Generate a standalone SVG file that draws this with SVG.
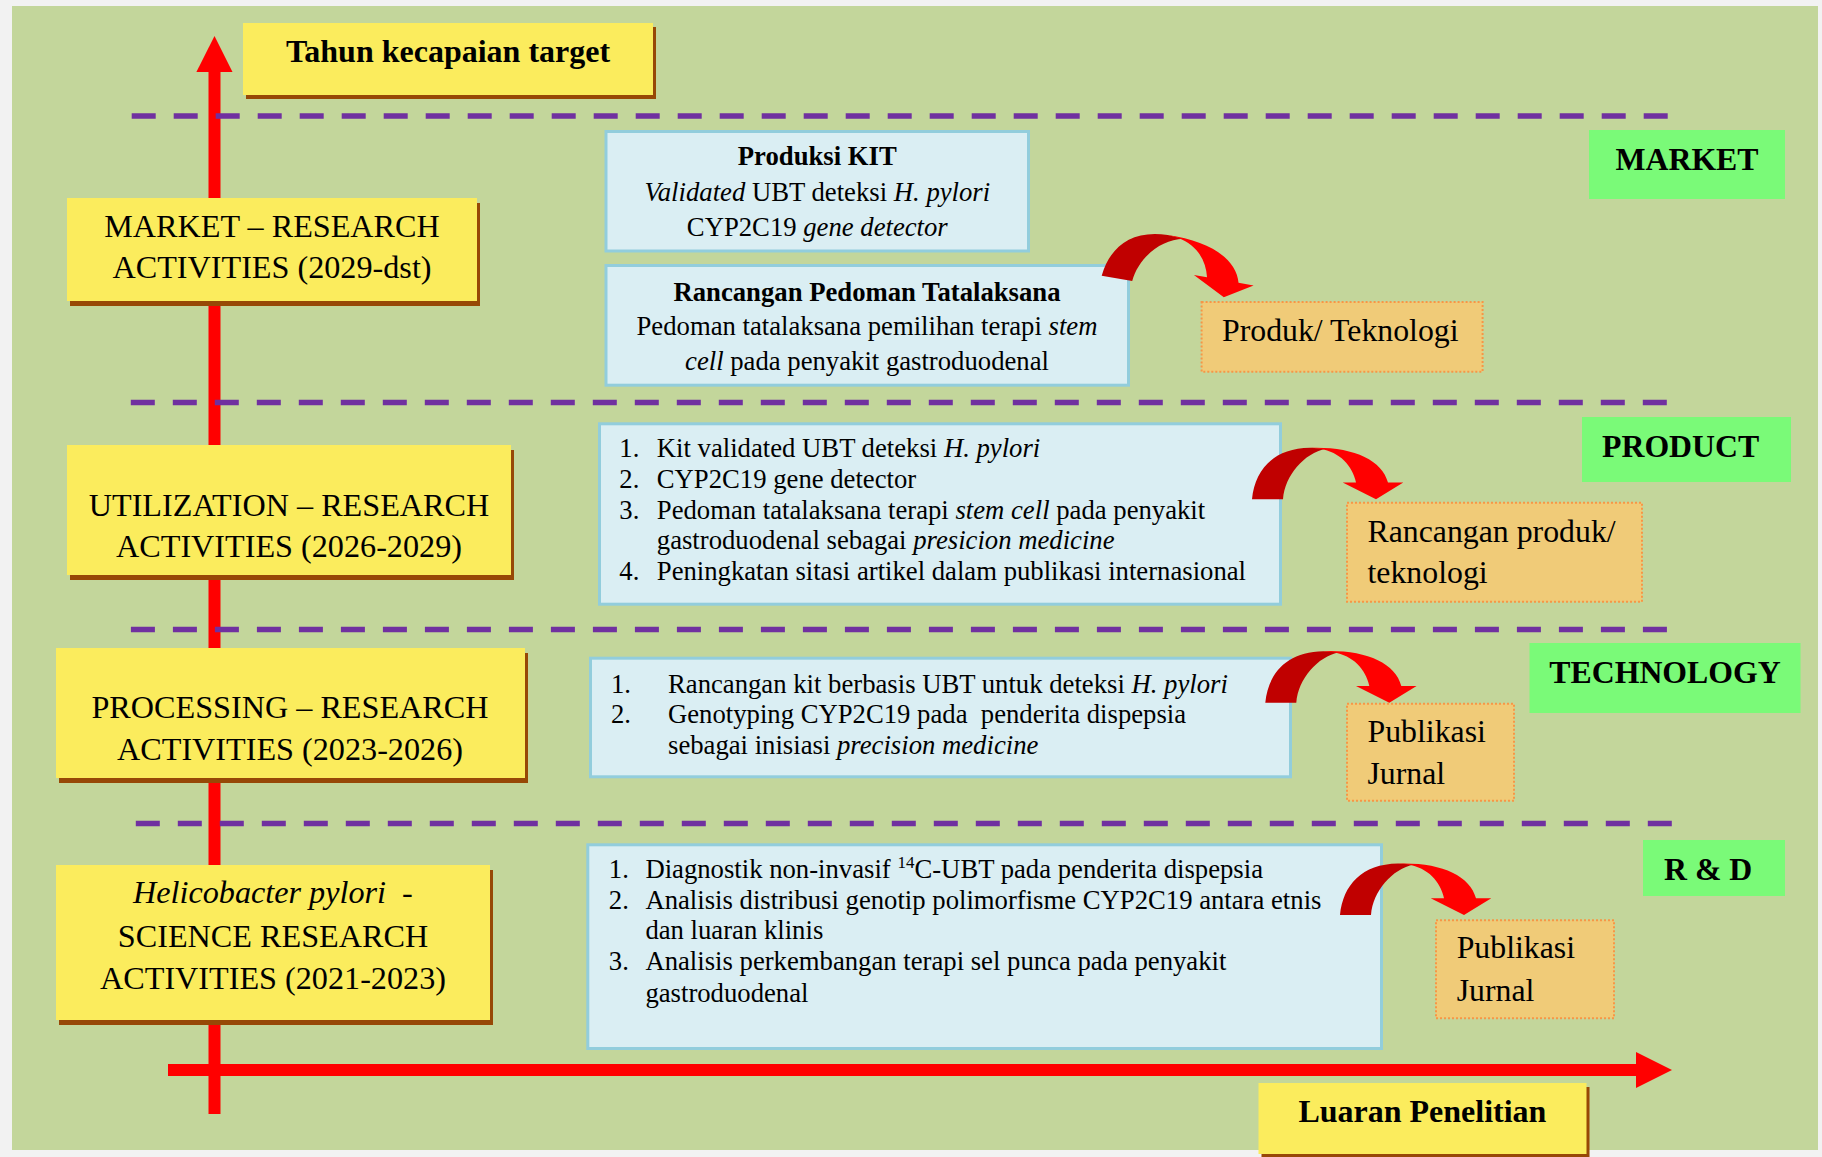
<svg xmlns="http://www.w3.org/2000/svg" width="1822" height="1157" viewBox="0 0 1822 1157">
<style>
text{font-family:"Liberation Serif","Times New Roman",serif;fill:#000}
.lab{font-size:32.2px;text-anchor:middle}
.bold{font-weight:bold}
.b26{font-size:26.7px}
.mid{text-anchor:middle}
.it{font-style:italic}
.or{font-size:31.8px}
.yel{fill:#fbec5d}
.shd{fill:#974806}
.grn{fill:#7afa78}
.blu{fill:#daeef3;stroke:#92cddc;stroke-width:3}
.org{fill:#f0cb78;stroke:#f79646;stroke-width:2;stroke-dasharray:2 2}
.dash{stroke:#7030a0;stroke-width:5.5;stroke-dasharray:24 18;fill:none}
.axis{stroke:#ff0000;stroke-width:12;fill:none}
</style>
<defs>
<g id="curve">
<path d="M0,0 C3,-30 22,-51 58,-51.5 L74,-50.5 C52,-46 33,-24 31,0 Z" fill="#c00000"/>
<path d="M58,-51.5 C100,-53 130,-40 136,-16.7 L151.3,-16.7 L124,0 L90.7,-16.7 L104,-16.7 C100,-34 88,-47 68,-50.5 Z" fill="#ff0000"/>
</g>
</defs>
<rect x="0" y="0" width="1822" height="1157" fill="#f2f2f2"/>
<rect x="12" y="6" width="1806" height="1144" fill="#c3d69b"/>

<g id="axes">
<line class="axis" x1="214.5" y1="70" x2="214.5" y2="1114"/>
<polygon points="196.4,72 232.5,72 214.5,36" fill="#ff0000"/>
<line class="axis" x1="168" y1="1070" x2="1637" y2="1070"/>
<polygon points="1636,1052 1636,1088 1672,1070" fill="#ff0000"/>
<line class="dash" x1="131.7" y1="116" x2="1668" y2="116"/>
<line class="dash" x1="130.8" y1="402.5" x2="1667" y2="402.5"/>
<line class="dash" x1="130.9" y1="629.4" x2="1667" y2="629.4"/>
<line class="dash" x1="135.8" y1="823.5" x2="1672" y2="823.5"/>
</g>

<g id="tahun">
<rect class="shd" x="246" y="27" width="410" height="72"/>
<rect class="yel" x="243" y="23" width="410" height="72"/>
<text class="bold mid" x="448" y="62" font-size="32">Tahun kecapaian target</text>
</g>

<g id="market-label">
<rect class="shd" x="70" y="203" width="410" height="103"/>
<rect class="yel" x="67" y="198" width="410" height="103"/>
<text class="lab" x="272" y="236.7">MARKET – RESEARCH</text>
<text class="lab" x="272" y="278.3">ACTIVITIES (2029-dst)</text>
</g>

<g id="utilization-label">
<rect class="shd" x="70" y="450" width="444" height="130"/>
<rect class="yel" x="67" y="445" width="444" height="130"/>
<text class="lab" x="289" y="515.7">UTILIZATION – RESEARCH</text>
<text class="lab" x="289" y="556.7">ACTIVITIES (2026-2029)</text>
</g>

<g id="processing-label">
<rect class="shd" x="59" y="653" width="469" height="130"/>
<rect class="yel" x="56" y="648" width="469" height="130"/>
<text class="lab" x="290" y="717.7">PROCESSING – RESEARCH</text>
<text class="lab" x="290" y="760">ACTIVITIES (2023-2026)</text>
</g>

<g id="science-label">
<rect class="shd" x="59" y="870" width="434" height="155"/>
<rect class="yel" x="56" y="865" width="434" height="155"/>
<text class="it" x="133" y="903.3" font-size="32.2">Helicobacter pylori</text>
<text x="402" y="903.3" font-size="32.2">-</text>
<text class="lab" x="273" y="946.7">SCIENCE RESEARCH</text>
<text class="lab" x="273" y="989">ACTIVITIES (2021-2023)</text>
</g>

<g id="luaran">
<rect class="shd" x="1261.5" y="1087" width="328" height="71"/>
<rect class="yel" x="1258.5" y="1083" width="328" height="71"/>
<text class="bold mid" x="1422.4" y="1121.7" font-size="32">Luaran Penelitian</text>
</g>

<g id="stage-market">
<rect class="grn" x="1589" y="130" width="196" height="69"/>
<text class="bold mid" x="1687" y="170" font-size="31.8">MARKET</text>
</g>
<g id="stage-product">
<rect class="grn" x="1582" y="417" width="209" height="65"/>
<text class="bold" x="1602" y="457.3" font-size="31.8">PRODUCT</text>
</g>
<g id="stage-technology">
<rect class="grn" x="1529.5" y="643" width="271" height="70"/>
<text class="bold mid" x="1665" y="682.7" font-size="31.8">TECHNOLOGY</text>
</g>
<g id="stage-rd">
<rect class="grn" x="1643" y="840" width="142" height="56"/>
<text class="bold" x="1664" y="880" font-size="31.8">R &amp; D</text>
</g>

<g id="box-kit">
<rect class="blu" x="606" y="131.5" width="422.5" height="119.5"/>
<text class="b26 bold mid" x="817.3" y="165">Produksi KIT</text>
<text class="b26 mid" x="817.3" y="200.7"><tspan class="it">Validated</tspan> UBT deteksi <tspan class="it">H. pylori</tspan></text>
<text class="b26 mid" x="817.3" y="236">CYP2C19 <tspan class="it">gene detector</tspan></text>
</g>

<g id="box-pedoman">
<rect class="blu" x="606" y="265.5" width="522.5" height="119.7"/>
<text class="b26 bold mid" x="867" y="300.7">Rancangan Pedoman Tatalaksana</text>
<text class="b26 mid" x="867" y="335">Pedoman tatalaksana pemilihan terapi <tspan class="it">stem</tspan></text>
<text class="b26 mid" x="867" y="370"><tspan class="it">cell</tspan> pada penyakit gastroduodenal</text>
</g>

<g id="box-utilization">
<rect class="blu" x="599.5" y="423.8" width="681" height="180.4"/>
<text class="b26" x="619.3" y="456.7">1.</text>
<text class="b26" x="656.8" y="456.7">Kit validated UBT deteksi <tspan class="it">H. pylori</tspan></text>
<text class="b26" x="619.3" y="487.7">2.</text>
<text class="b26" x="656.8" y="487.7">CYP2C19 gene detector</text>
<text class="b26" x="619.3" y="519">3.</text>
<text class="b26" x="656.8" y="519">Pedoman tatalaksana terapi <tspan class="it">stem cell</tspan> pada penyakit</text>
<text class="b26" x="656.8" y="549.3">gastroduodenal sebagai <tspan class="it">presicion medicine</tspan></text>
<text class="b26" x="619.3" y="580">4.</text>
<text class="b26" x="656.8" y="580">Peningkatan sitasi artikel dalam publikasi internasional</text>
</g>

<g id="box-processing">
<rect class="blu" x="590.5" y="658.2" width="700" height="118.6"/>
<text class="b26" x="611" y="692.7">1.</text>
<text class="b26" x="668" y="692.7">Rancangan kit berbasis UBT untuk deteksi <tspan class="it">H. pylori</tspan></text>
<text class="b26" x="611" y="723.3">2.</text>
<text class="b26" x="668" y="723.3" xml:space="preserve">Genotyping CYP2C19 pada  penderita dispepsia</text>
<text class="b26" x="668" y="754.3">sebagai inisiasi <tspan class="it">precision medicine</tspan></text>
</g>

<g id="box-science">
<rect class="blu" x="587.8" y="844.8" width="793.7" height="203.7"/>
<text class="b26" x="608.8" y="878.3">1.</text>
<text class="b26" x="645.4" y="878.3">Diagnostik non-invasif <tspan font-size="17" dy="-10">14</tspan><tspan dy="10">C-UBT pada penderita dispepsia</tspan></text>
<text class="b26" x="608.8" y="909">2.</text>
<text class="b26" x="645.4" y="909">Analisis distribusi genotip polimorfisme CYP2C19 antara etnis</text>
<text class="b26" x="645.4" y="939.3">dan luaran klinis</text>
<text class="b26" x="608.8" y="970">3.</text>
<text class="b26" x="645.4" y="970">Analisis perkembangan terapi sel punca pada penyakit</text>
<text class="b26" x="645.4" y="1001.7">gastroduodenal</text>
</g>

<g id="out-produk">
<rect class="org" x="1201.6" y="302" width="281" height="69.7"/>
<text class="or" x="1222" y="341">Produk/ Teknologi</text>
</g>
<g id="out-rancangan">
<rect class="org" x="1347" y="502.7" width="295" height="99"/>
<text class="or" x="1367.5" y="541.7">Rancangan produk/</text>
<text class="or" x="1367.5" y="583.3">teknologi</text>
</g>
<g id="out-publikasi-tech">
<rect class="org" x="1347" y="703.7" width="167" height="97"/>
<text class="or" x="1367.5" y="741.7">Publikasi</text>
<text class="or" x="1367.5" y="784">Jurnal</text>
</g>
<g id="out-publikasi-rd">
<rect class="org" x="1436" y="920.3" width="178" height="98"/>
<text class="or" x="1456.7" y="958.3">Publikasi</text>
<text class="or" x="1456.7" y="1000.7">Jurnal</text>
</g>

<g id="connectors">
<use href="#curve" transform="translate(1101.7,275.7) rotate(10)"/>
<use href="#curve" transform="translate(1252,499.3)"/>
<use href="#curve" transform="translate(1265.3,702.7)"/>
<use href="#curve" transform="translate(1340,915)"/>
</g>
</svg>
